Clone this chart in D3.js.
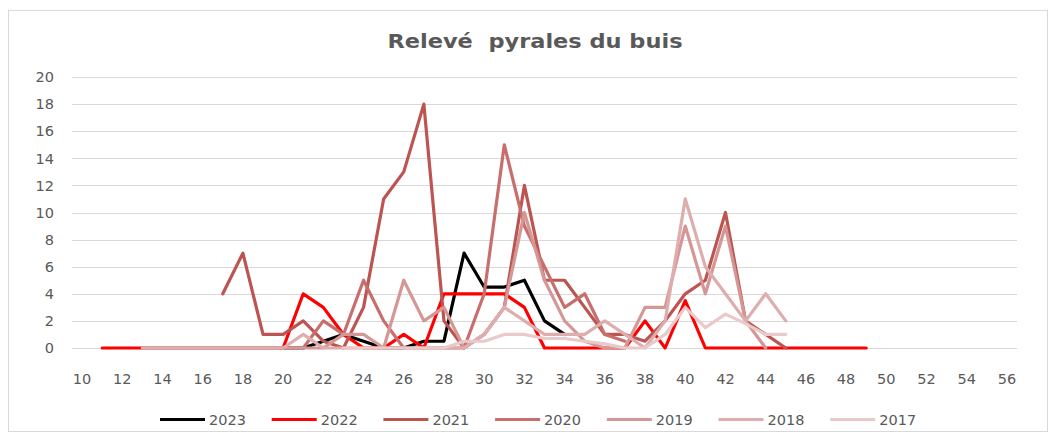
<!DOCTYPE html>
<html>
<head>
<meta charset="utf-8">
<script src="https://cdn.jsdelivr.net/npm/d3@7"></script>
<style>
	body { margin: 0; background: #fff; }
	text { font-family: "DejaVu Sans", sans-serif; fill: #595959; }
</style>
</head>
<body>
<svg id="chart"></svg>
<script>
const weeks = [11, 12, 13, 14, 15, 16, 17, 18, 19, 20, 21, 22, 23, 24, 25, 26, 27, 28, 29, 30,
	31, 32, 33, 34, 35, 36, 37, 38, 39, 40, 41, 42, 43, 44, 45, 46, 47, 48, 49];

const years = ["2023", "2022", "2021", "2020", "2019", "2018", "2017"];
const colors = ["#000000", "#ff0000", "#bc5552", "#c86e6c", "#d59795", "#deadad", "#e9c9c9"];

// one value per week above, null = no record that week
const v2023 = [null, null, null, null, null, null, null, null, null, 0, 0, 0.5, 1, 0.5, 0, 0, 0.5, 0.5, 7, 4.5,
	4.5, 5, 2, 1, null, null, null, null, null, null, null, null, null, null, null, null, null, null, null];
const v2022 = [0, 0, 0, 0, 0, 0, 0, 0, 0, 0, 4, 3, 1, 0, 0, 1, 0, 4, 4, 4,
	4, 3, 0, 0, 0, 0, 0, 2, 0, 3.5, 0, 0, 0, 0, 0, 0, 0, 0, 0];
const v2021 = [null, null, null, null, null, null, 4, 7, 1, 1, 2, 0.5, 0, 3, 11, 13, 18, 2, 0, 1,
	3, 12, 5, 5, 3, 1, 1, 0.5, 2, 4, 5, 10, 2, 1, 0, null, null, null, null];
const v2020 = [null, null, 0, 0, 0, 0, 0, 0, 0, 0, 0, 2, 1, 5, 2, 0, 0, 0, 0, 4,
	15, 9, 6, 3, 4, 1, 0.5, null, null, null, null, null, null, null, null, null, null, null, null];
const v2019 = [null, null, 0, 0, 0, 0, 0, 0, 0, 0, 0, 0, 1, 1, 0, 5, 2, 3, 0, 1,
	3, 10, 5, 2, 0.5, 0, 0, 3, 3, 9, 4, 9, 2, 0, null, null, null, null, null];
const v2018 = [null, null, 0, 0, 0, 0, 0, 0, 0, 0, 1, 0, 0, 0, 0, 0, 0, 0, 0, 1,
	3, 2, 1, 1, 1, 2, 1, 0, 2, 11, 6, 4, 2, 4, 2, null, null, null, null];
const v2017 = [null, null, null, null, null, null, null, null, null, null, null, null, 0, 0, 0, 0, 0, 0, 0.5, 0.5,
	1, 1, 0.7, 0.7, 0.5, 0.3, 0, 0, 1, 3, 1.5, 2.5, 1.8, 1, 1, null, null, null, null];

const yTicks = [0, 2, 4, 6, 8, 10, 12, 14, 16, 18, 20];
const xTicks = [10, 12, 14, 16, 18, 20, 22, 24, 26, 28, 30, 32, 34, 36, 38, 40, 42, 44, 46, 48, 50, 52, 54, 56];

const series = [v2023, v2022, v2021, v2020, v2019, v2018, v2017];

const size = { w: 1056, h: 439 };
const plot = { l: 72, r: 1017, t: 77, b: 348 };

const svg = d3.select("svg#chart").attr("width", size.w).attr("height", size.h);

// outer frame
svg.append("rect")
	.attr("x", 8.5)
	.attr("y", 10.5)
	.attr("width", 1039)
	.attr("height", 421)
	.attr("fill", "#fff")
	.attr("stroke", "#d9d9d9");

const x = d3.scaleLinear().domain([9.5, 56.5]).range([plot.l, plot.r]);
const y = d3.scaleLinear().domain([0, 20]).range([plot.b, plot.t]);

svg.append("text")
	.attr("x", 535)
	.attr("y", 47.5)
	.attr("text-anchor", "middle")
	.attr("textLength", 295)
	.attr("lengthAdjust", "spacingAndGlyphs")
	.style("font-size", "20px")
	.style("font-weight", "bold")
	.style("white-space", "pre")
	.text("Relevé  pyrales du buis");

// gridlines
svg.append("g")
	.selectAll("line")
	.data(yTicks)
	.join("line")
	.attr("x1", plot.l)
	.attr("x2", plot.r)
	.attr("y1", (d) => Math.round(y(d)) + 0.5)
	.attr("y2", (d) => Math.round(y(d)) + 0.5)
	.attr("stroke", "#d9d9d9")
	.attr("stroke-width", 1);

svg.append("g")
	.selectAll("text")
	.data(yTicks)
	.join("text")
	.attr("x", 54)
	.attr("y", (d) => y(d))
	.attr("dy", "0.36em")
	.attr("text-anchor", "end")
	.style("font-size", "14.5px")
	.text((d) => d);

svg.append("g")
	.selectAll("text")
	.data(xTicks)
	.join("text")
	.attr("x", (d) => x(d))
	.attr("y", 383.5)
	.attr("text-anchor", "middle")
	.style("font-size", "14.5px")
	.text((d) => d);

const line = d3
	.line()
	.defined((d) => d.v !== null)
	.x((d) => x(d.w))
	.y((d) => y(d.v));

svg.append("g")
	.classed("lines", true)
	.selectAll("path")
	.data(series)
	.join("path")
	.attr("d", (vals) => line(weeks.map((w, i) => ({ w: w, v: vals[i] }))))
	.attr("fill", "none")
	.attr("stroke", (d, i) => colors[i])
	.attr("stroke-width", 3.2)
	.attr("stroke-linejoin", "round")
	.attr("stroke-linecap", "round");

// legend
const legend = svg.append("g")
	.selectAll("g")
	.data(years)
	.join("g")
	.attr("transform", (d, i) => `translate(${160 + i * 111.7}, 419.5)`);

legend.append("line")
	.attr("x1", 0)
	.attr("x2", 45)
	.attr("stroke", (d, i) => colors[i])
	.attr("stroke-width", 3);

legend.append("text")
	.attr("x", 49)
	.attr("dy", "0.36em")
	.style("font-size", "14.5px")
	.text((d) => d);
</script>
</body>
</html>
